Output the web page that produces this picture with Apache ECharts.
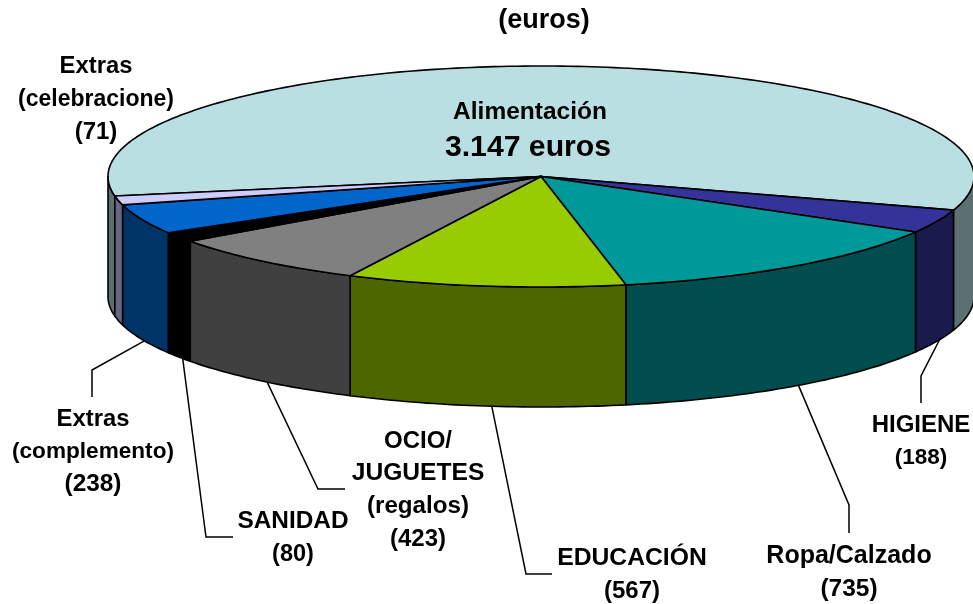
<!DOCTYPE html>
<html><head><meta charset="utf-8">
<style>html,body{margin:0;padding:0;background:#fff;overflow:hidden}#c{width:973px;height:604px}</style>
<script src="https://cdn.jsdelivr.net/npm/echarts@6/dist/echarts.min.js"></script>
</head><body><div id="c"></div>
<script>
// Data
const categories = ['Alimentación','HIGIENE','Ropa/Calzado','EDUCACIÓN','OCIO/JUGUETES (regalos)','SANIDAD','Extras (complemento)','Extras (celebracione)'];
const values = [3147,188,735,567,423,80,238,71];
const labelLines = [['Alimentación'],['HIGIENE','(188)'],['Ropa/Calzado','(735)'],['EDUCACIÓN','(567)'],['OCIO/','JUGUETES','(regalos)','(423)'],['SANIDAD','(80)'],['Extras','(complemento)','(238)'],['Extras','(celebracione)','(71)']];
const centerLabel = '3.147 euros';
const titleText = '(euros)';
// Styles and layout
const topColors = ['#B9DFE3','#333399','#009999','#99CC00','#808080','#000000','#0066CC','#CCCCFF'];
const sideColors = ['#5C7072','#1A1A4D','#004D4F','#4D6600','#404040','#000000','#003366','#666685'];
const labelSizes = [[24.5],[24,22.5],[25,24.5],[24.7,24],[24,24.6,24.2,24],[24.4,23.5],[23.8,22.6,24.4],[23.8,23,24]];
const labelPos = [[530,112],[921,441.5],[849,572.5],[632,575],[418,490],[293,538],[93,452],[96,99.5]];
const leaderBends = [null,[[921,376],[921,403]],[[849,505],[849,533]],[[526,574],[552,574]],[[318,489],[345,489]],[[206,537],[233,537]],[[92,370],[92,397]],null];
const CX=541, CY=176.5, RX=433, RY=110.5, DEPTH=120, START=-190.2, LEADER_SHIFT=-0.9;
const LH=32.7, FAMILY='"Liberation Sans", Arial, sans-serif';
const total = values.reduce((a,b)=>a+b,0);
const pt=(t,dy=0)=>[CX+RX*Math.cos(t*Math.PI/180),CY+RY*Math.sin(t*Math.PI/180)+dy];
function arc(a,b,dy=0){const n=Math.max(2,Math.ceil(Math.abs(b-a)));const r=[];for(let i=0;i<=n;i++)r.push(pt(a+(b-a)*i/n,dy));return r;}
const line={stroke:'#000',lineWidth:1.6,lineJoin:'round'};
function renderItem(params,api){
  const i=params.dataIndex, v=api.value(0);
  let s=START; for(let k=0;k<i;k++) s+=values[k]/total*360;
  const e=s+v/total*360, kids=[];
  for(const base of [-360,0]){
    const a=Math.max(s,base), b=Math.min(e,base+180);
    if(b>a){
      kids.push({type:'polygon',shape:{points:arc(a,b).concat(arc(b,a,DEPTH))},style:{fill:sideColors[i],...line}});
    }
  }
  kids.push({type:'polygon',shape:{points:[[CX,CY]].concat(arc(s,e))},style:{fill:topColors[i],...line}});
  if(leaderBends[i]){
    const m=pt((s+e)/2+LEADER_SHIFT,DEPTH);
    kids.push({type:'polyline',shape:{points:[m].concat(leaderBends[i])},style:{fill:null,stroke:'#000',lineWidth:1.5}});
  }
  const ls=labelLines[i];
  ls.forEach((t,j)=>kids.push({type:'text',x:labelPos[i][0],y:labelPos[i][1]+LH*(j-(ls.length-1)/2),
    style:{text:t,font:'bold '+labelSizes[i][j]+'px '+FAMILY,fill:'#000',align:'center',verticalAlign:'middle'}}));
  if(i===0) kids.push({type:'text',x:528,y:148,style:{text:centerLabel,font:'bold 30.2px '+FAMILY,fill:'#000',align:'center',verticalAlign:'middle'}});
  return {type:'group',children:kids};
}
const chart=echarts.init(document.getElementById('c'),null,{renderer:'canvas'});
chart.setOption({
  animation:false,
  backgroundColor:'#fff',
  title:{text:titleText,left:544,top:21,textAlign:'center',textVerticalAlign:'middle',padding:0,textStyle:{fontFamily:FAMILY,fontWeight:'bold',fontSize:27,color:'#000'}},
  series:[{type:'custom',coordinateSystem:'none',silent:true,clip:false,renderItem,
    data:values.map((v,i)=>({name:categories[i],value:[v]}))}]
});
</script></body></html>
